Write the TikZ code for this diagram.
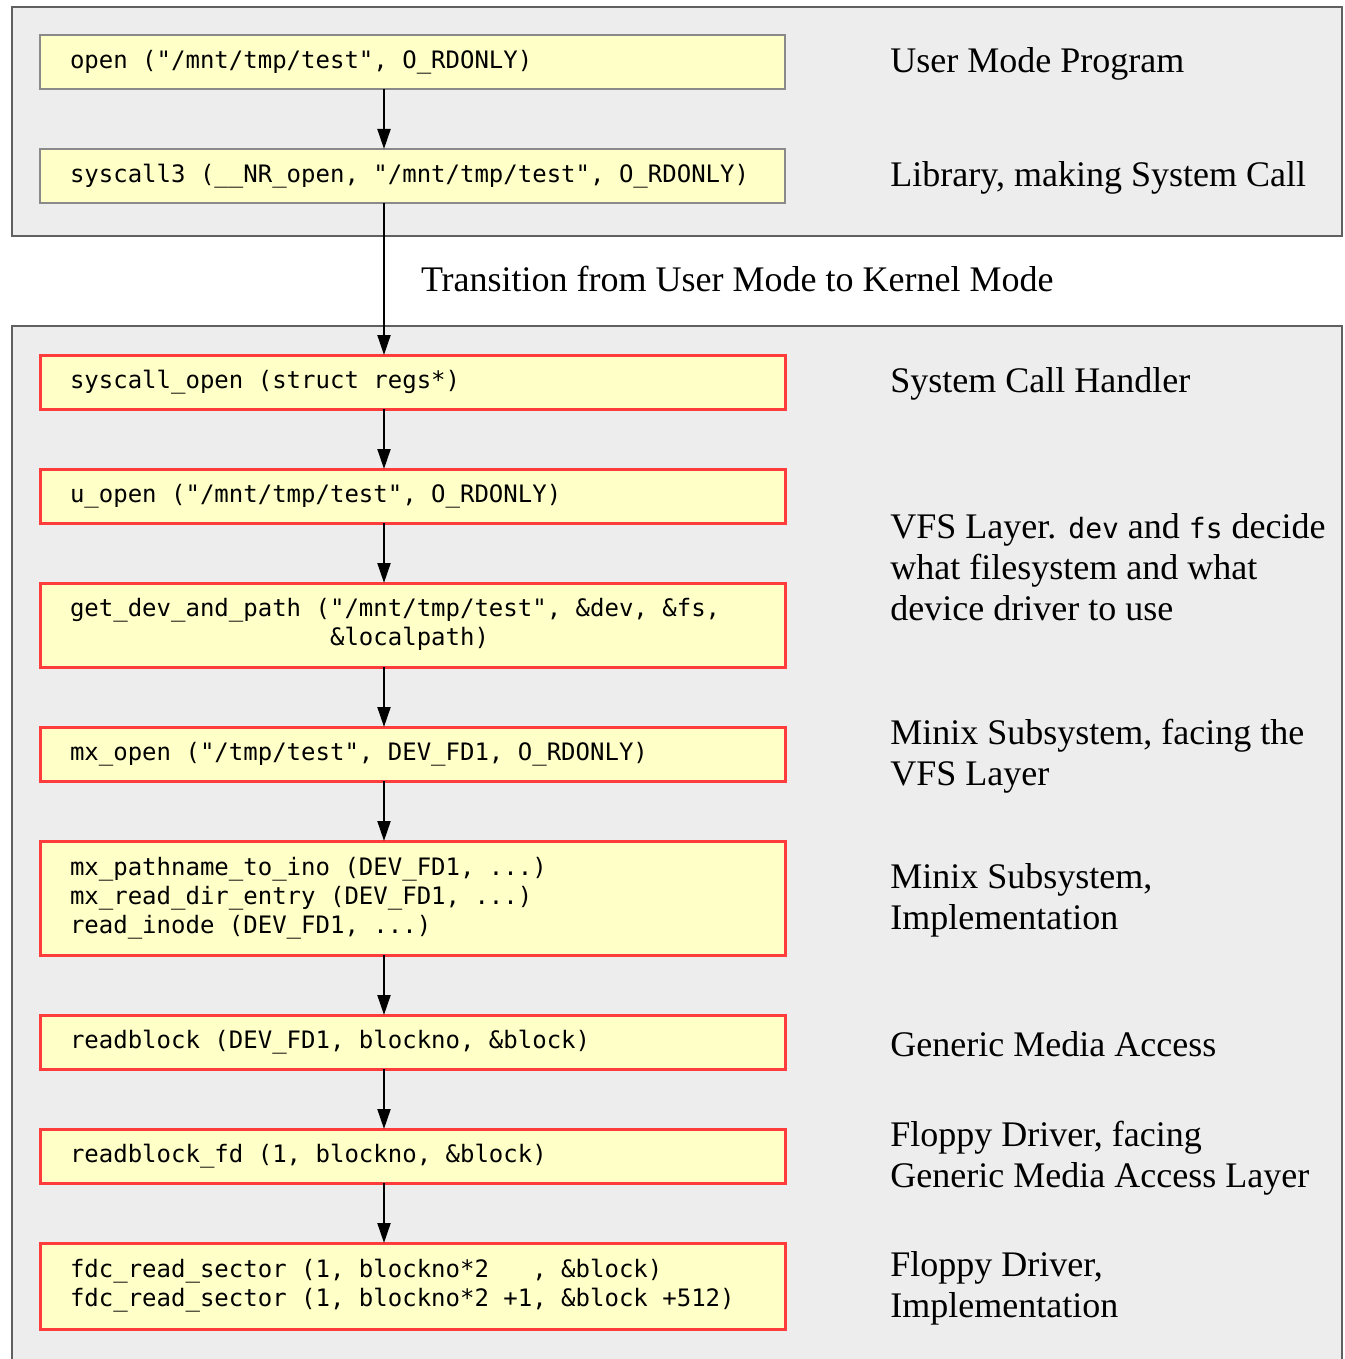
\documentclass[tikz,border=0pt]{standalone}
\usepackage{fontspec}
\setmainfont{Liberation Serif}
\setmonofont{DejaVu Sans Mono}
\usetikzlibrary{positioning,arrows.meta,calc}
\definecolor{panelgray}{HTML}{EDEDED}
\definecolor{callyellow}{HTML}{FFFFC8}
\definecolor{kernelred}{HTML}{FF3C3C}
\definecolor{usergray}{HTML}{8A8A8A}
\newcommand\codefont[1]{\ttfamily\fontsize{#1}{14.5}\selectfont}
\newcommand\monospaces{\spaceskip=\fontcharwd\font`\x\relax \xspaceskip=\spaceskip}

\begin{document}
\begin{tikzpicture}[x=0.5pt,y=-0.5pt,
    panel/.style={fill=panelgray, draw=gray!75!black, line width=1pt},
    ucall/.style={draw=usergray, line width=1.3pt, fill=callyellow,
      font=\codefont{12}, align=left, execute at begin node=\monospaces,
      text width=342.5pt, inner xsep=15pt, inner ysep=0pt,
      minimum height=27pt, outer sep=0pt},
    kcall/.style={ucall, draw=kernelred, line width=1.5pt},
    layer/.style={anchor=west, align=left, inner sep=0pt, yshift=-1pt,
      font=\fontsize{18}{20.5}\selectfont},
    flow/.style={-{Triangle[length=10pt,width=6.5pt]}, line width=1pt}]
  \useasboundingbox (0,0) rectangle (1344,1359);
  \draw[panel] (12,7) rectangle (1342,236);
  \draw[panel] (12,326) rectangle (1342,1380);

  % user mode
  \node[ucall, anchor=north west] (open) at (40,35) {open ("/mnt/tmp/test", O\_RDONLY)};
  \node[ucall, below=30pt of open] (sys3) {syscall3 (\_\_NR\_open, "/mnt/tmp/test", O\_RDONLY)};

  % kernel mode
  \node[kcall, below=76pt of sys3] (sysopen) {syscall\_open (struct regs*)};
  \node[kcall, below=30pt of sysopen] (uopen) {u\_open ("/mnt/tmp/test", O\_RDONLY)};
  \node[kcall, below=30pt of uopen, minimum height=42pt] (getdev) {get\_dev\_and\_path ("/mnt/tmp/test", \&dev, \&fs,\\
    \phantom{get\_dev\_and\_path (}\&localpath)};
  \node[kcall, below=30pt of getdev] (mxopen) {mx\_open ("/tmp/test", DEV\_FD1, O\_RDONLY)};
  \node[kcall, below=30pt of mxopen, minimum height=57pt] (mximpl) {mx\_pathname\_to\_ino (DEV\_FD1, ...)\\
    mx\_read\_dir\_entry (DEV\_FD1, ...)\\
    read\_inode (DEV\_FD1, ...)};
  \node[kcall, below=30pt of mximpl] (rblock) {readblock (DEV\_FD1, blockno, \&block)};
  \node[kcall, below=30pt of rblock] (rblockfd) {readblock\_fd (1, blockno, \&block)};
  \node[kcall, below=30pt of rblockfd, minimum height=43pt] (fdc) {fdc\_read\_sector (1, blockno*2\phantom{x+1}, \&block)\\
    fdc\_read\_sector (1, blockno*2 +1, \&block +512)};

  \draw[flow] ([xshift=-14.25pt]open.south) -- ([xshift=-14.25pt]sys3.north);
  \draw[flow] ([xshift=-14.25pt]sys3.south) -- node[midway, right=18pt, inner sep=0pt, font=\fontsize{18}{20.5}\selectfont] (trans) {Transition from User Mode to Kernel Mode} ([xshift=-14.25pt]sysopen.north);
  \draw[flow] ([xshift=-14.25pt]sysopen.south) -- ([xshift=-14.25pt]uopen.north);
  \draw[flow] ([xshift=-14.25pt]uopen.south) -- ([xshift=-14.25pt]getdev.north);
  \draw[flow] ([xshift=-14.25pt]getdev.south) -- ([xshift=-14.25pt]mxopen.north);
  \draw[flow] ([xshift=-14.25pt]mxopen.south) -- ([xshift=-14.25pt]mximpl.north);
  \draw[flow] ([xshift=-14.25pt]mximpl.south) -- ([xshift=-14.25pt]rblock.north);
  \draw[flow] ([xshift=-14.25pt]rblock.south) -- ([xshift=-14.25pt]rblockfd.north);
  \draw[flow] ([xshift=-14.25pt]rblockfd.south) -- ([xshift=-14.25pt]fdc.north);

  % layer labels
  \node[layer, right=52.5pt of open] (lprog) {User Mode Program};
  \node[layer, right=52.5pt of sys3] (llib) {Library, making System Call};
  \node[layer, right=52.5pt of sysopen] (lhandler) {System Call Handler};
  \node[layer] (lvfs) at ($(uopen.east)!.5!(getdev.east)+(105,5)$) {VFS Layer. {\codefont{14}dev} and {\codefont{14}fs} decide\\what filesystem and what\\device driver to use};
  \node[layer, right=52.5pt of mxopen] (lmxvfs) {Minix Subsystem, facing the\\VFS Layer};
  \node[layer, right=52.5pt of mximpl] (lmximpl) {Minix Subsystem,\\Implementation};
  \node[layer, right=52.5pt of rblock] (lmedia) {Generic Media Access};
  \node[layer, right=52.5pt of rblockfd] (lfdface) {Floppy Driver, facing\\Generic Media Access Layer};
  \node[layer, right=52.5pt of fdc] (lfdimpl) {Floppy Driver,\\Implementation};
\end{tikzpicture}
\end{document}
